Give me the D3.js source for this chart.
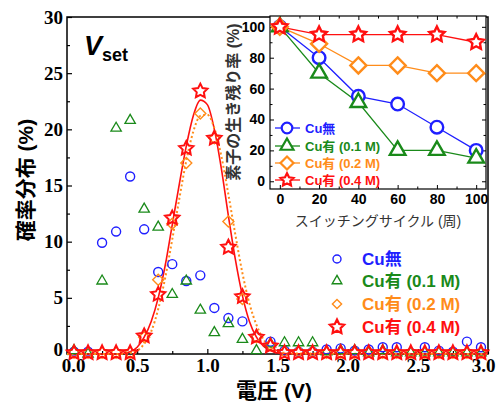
<!DOCTYPE html>
<html><head><meta charset="utf-8">
<script src="https://cdn.jsdelivr.net/npm/d3@7"></script>
<style>body{margin:0;background:#fff}svg{display:block}</style>
</head><body>
<svg id="c" width="498" height="405"></svg>
<script>
// ---------- DATA ----------
const voltages = [0.05,0.15,0.25,0.35,0.45,0.55,0.65,0.75,0.85,0.95,1.05,1.15,1.25,1.35,1.45,1.55,1.65,1.75,1.85,1.95,2.05,2.15,2.25,2.35,2.45,2.55,2.65,2.75,2.85,2.95];
const seriesNames = ["Cu無","Cu有 (0.1 M)","Cu有 (0.2 M)","Cu有 (0.4 M)"];
const noCu   = [0.2,0.2,9.9,10.9,15.8,11.1,7.3,8.0,6.5,7.0,4.1,3.2,2.9,1.5,1.1,0.3,0.2,0.2,0.4,0.5,0.3,0.4,0.6,0.6,0.1,0.6,0.3,0.2,1.1,0.6];
const cu01   = [0.3,0.0,6.5,20.1,20.8,12.9,11.3,5.3,6.5,3.9,1.9,2.7,1.3,0.3,0.9,1.0,1.0,1.0,0.2,0.3,0.3,0.1,0.3,0.1,0.1,0.1,0.1,0.1,0.1,0.1];
const cu02   = [0.1,0.1,0.1,0.1,0.1,1.5,6.6,11.6,17.0,21.4,19.2,11.8,4.9,1.5,0.8,0.2,0.2,0.2,0.1,0.1,0.1,0.2,0.1,0.1,0.1,0.1,0.1,0.1,0.1,0.1];
const cu04   = [0.1,0.1,0.1,0.1,0.1,1.6,5.3,12.1,18.3,23.4,19.2,9.5,5.1,1.5,0.7,0.1,0.1,0.1,0.1,0.1,0.1,0.1,0.1,0.1,0.1,0.1,0.1,0.1,0.1,0.1];
// fitted curves: [voltage, %]
const fit04 = [[0,0],[0.3,0],[0.4,0.05],[0.45,0.2],[0.5,0.6],[0.55,1.5],[0.6,2.9],[0.65,5.0],[0.7,7.9],[0.75,11.5],[0.8,15.1],[0.85,18.5],[0.9,21.2],[0.95,22.6],[1.0,22.2],[1.05,20.0],[1.1,16.5],[1.15,12.3],[1.2,8.4],[1.25,5.2],[1.3,2.9],[1.35,1.5],[1.4,0.7],[1.45,0.3],[1.5,0.1],[1.6,0.02],[3.0,0]];
const fit02 = [[0,0],[0.35,0],[0.45,0.1],[0.5,0.3],[0.55,0.9],[0.6,2.0],[0.65,4.0],[0.7,6.8],[0.75,10.2],[0.8,13.8],[0.85,17.2],[0.9,19.8],[0.95,21.2],[1.0,21.3],[1.05,20.1],[1.1,17.6],[1.15,14.2],[1.2,10.6],[1.25,7.2],[1.3,4.5],[1.35,2.6],[1.4,1.3],[1.45,0.6],[1.5,0.25],[1.6,0.05],[3.0,0]];
const xTicks = [0.0,0.5,1.0,1.5,2.0,2.5,3.0];
const yTicks = [0,5,10,15,20,25,30];
// inset
const cycles = [0,20,40,60,80,100];
const survNoCu = [100,80,55,50,35,20];
const surv01   = [100,70,51,20,20,15];
const surv02   = [100,89,75,75,70,70];
const surv04   = [100,95,95,95,95,90];
const insetXTicks = [0,20,40,60,80,100];
const insetYTicks = [0,20,40,60,80,100];

const colors = ["#1f1fff","#1a8a1a","#ff8c1a","#ff1010"];
const shapes = ["circle","triangle","diamond","star"];

// ---------- HELPERS ----------
function shapePath(type, s){
  if(type==="circle"){const p=d3.path();p.arc(0,0,s,0,2*Math.PI);p.closePath();return p.toString();}
  if(type==="triangle"){const a=s*2; const h=a/Math.sqrt(3);return `M0,${-h}L${a/2},${h/2}L${-a/2},${h/2}Z`;}
  if(type==="diamond"){return `M0,${-s}L${s},0L0,${s}L${-s},0Z`;}
  if(type==="star"){let d="";for(let i=0;i<10;i++){const r=i%2?s*0.5:s;const ang=-Math.PI/2+i*Math.PI/5;d+=(i?"L":"M")+(r*Math.cos(ang)).toFixed(2)+","+(r*Math.sin(ang)).toFixed(2);}return d+"Z";}
}
const sans = "'Liberation Sans', Arial, 'Noto Sans CJK JP', sans-serif";
const serif = "'Liberation Serif', 'Times New Roman', serif";

const svg = d3.select("#c");

// ---------- MAIN PLOT ----------
const x = d3.scaleLinear().domain([0,3]).range([67,488]);
const y = d3.scaleLinear().domain([0,30]).range([354,17]);

// minor ticks
svg.append("g").attr("transform",`translate(0,${y(0)})`)
  .call(d3.axisBottom(x).tickValues(d3.range(0.25,3,0.5)).tickSizeInner(-3).tickSizeOuter(0).tickFormat(""))
  .call(g=>g.select(".domain").remove()).selectAll("line").attr("stroke-width",1.2);
svg.append("g").attr("transform",`translate(${x(0)},0)`)
  .call(d3.axisLeft(y).tickValues(d3.range(2.5,30,5)).tickSizeInner(-3).tickSizeOuter(0).tickFormat(""))
  .call(g=>g.select(".domain").remove()).selectAll("line").attr("stroke-width",1.2);
// major
const gx = svg.append("g").attr("transform",`translate(0,${y(0)})`)
  .call(d3.axisBottom(x).tickValues(xTicks).tickSizeInner(-5).tickSizeOuter(0).tickPadding(5).tickFormat(d3.format(".1f")));
gx.select(".domain").remove();
gx.selectAll("line").attr("stroke-width",1.2);
gx.selectAll("text").attr("font-family",serif).attr("font-weight","bold").attr("font-size",19).attr("fill","#000")
  .attr("dx",d=>d===0?6:(d===3?-5:0));
const gy = svg.append("g").attr("transform",`translate(${x(0)},0)`)
  .call(d3.axisLeft(y).tickValues(yTicks).tickSizeInner(-5).tickSizeOuter(0).tickPadding(4));
gy.select(".domain").remove();
gy.selectAll("line").attr("stroke-width",1.2);
gy.selectAll("text").attr("font-family",serif).attr("font-weight","bold").attr("font-size",19).attr("fill","#000")
  .attr("dy",d=>d===0?"0.1em":"0.32em");

// frame
svg.append("rect").attr("x",x(0)).attr("y",y(30)).attr("width",x(3)-x(0)).attr("height",y(0)-y(30))
  .attr("fill","none").attr("stroke","#000").attr("stroke-width",1.5);

// curves
const line = d3.line().x(d=>x(d[0])).y(d=>y(d[1])).curve(d3.curveMonotoneX);
svg.append("path").attr("d",line(fit04)).attr("fill","none").attr("stroke",colors[3]).attr("stroke-width",1.6);
svg.append("path").attr("d",line(fit02)).attr("fill","none").attr("stroke",colors[2]).attr("stroke-width",2).attr("stroke-dasharray","2,2.5");

// markers
const mainSeries=[noCu,cu01,cu02,cu04];
const mainSize=[4.5,5.2,5.5,7.5];
const mainSW=[1.4,1.3,1.4,2];
mainSeries.forEach((ser,i)=>{
  svg.append("g").selectAll("path").data(ser.map((v,j)=>[voltages[j],v])).join("path")
    .attr("transform",d=>`translate(${x(d[0])},${y(d[1])})`)
    .attr("d",shapePath(shapes[i],mainSize[i]))
    .attr("fill","none").attr("stroke",colors[i]).attr("stroke-width",mainSW[i]).attr("stroke-linejoin","miter");
});

// axis titles
svg.append("text").attr("x",274).attr("y",398).attr("text-anchor","middle")
  .attr("font-family",sans).attr("font-weight","bold").attr("font-size",21).text("電圧 (V)");
svg.append("text").attr("transform","translate(33,180) rotate(-90)").attr("text-anchor","middle")
  .attr("font-family",sans).attr("font-weight","bold").attr("font-size",21).text("確率分布 (%)");

// Vset label
const vt = svg.append("text").attr("x",84).attr("y",55).attr("font-family",sans).attr("font-weight","bold");
vt.append("tspan").attr("font-style","italic").attr("font-size",27).text("V");
vt.append("tspan").attr("font-size",18).attr("dy",6).text("set");

// main legend
const legY=[259,281,304,327];
const legSize=[4,4.8,4.6,7.5];
seriesNames.forEach((n,i)=>{
  svg.append("path").attr("transform",`translate(337,${legY[i]})`).attr("d",shapePath(shapes[i],legSize[i]))
    .attr("fill","none").attr("stroke",colors[i]).attr("stroke-width",i===3?2.2:1.4);
  svg.append("text").attr("x",362).attr("y",legY[i]).attr("dy","0.36em")
    .attr("font-family",sans).attr("font-weight","bold").attr("font-size",17).attr("fill",colors[i]).text(n);
});

// ---------- INSET ----------
const ix = d3.scaleLinear().domain([-5,105]).range([270,486]);
const iy = d3.scaleLinear().domain([-5,107]).range([189,16]);
svg.append("rect").attr("x",ix(-5)).attr("y",iy(107)).attr("width",ix(105)-ix(-5)).attr("height",iy(-5)-iy(107))
  .attr("fill","#fff").attr("stroke","none");

function insetAxis(gen, tr, vals, size, labels){
  const g=svg.append("g").attr("transform",tr).call(gen.tickValues(vals).tickSizeInner(size).tickSizeOuter(0).tickPadding(5));
  g.select(".domain").remove();
  g.selectAll("line").attr("stroke-width",1);
  if(labels){g.selectAll("text").attr("font-family",sans).attr("font-weight","bold").attr("font-size",14).attr("fill","#000");}
  else g.selectAll("text").remove();
}
const minorX=d3.range(10,100,20), minorY=d3.range(10,100,20);
insetAxis(d3.axisBottom(ix),`translate(0,${iy(-5)})`,insetXTicks,-4,true);
insetAxis(d3.axisBottom(ix),`translate(0,${iy(-5)})`,minorX,-2.5,false);
insetAxis(d3.axisTop(ix),`translate(0,${iy(107)})`,insetXTicks,-4,false);
insetAxis(d3.axisTop(ix),`translate(0,${iy(107)})`,minorX,-2.5,false);
insetAxis(d3.axisLeft(iy),`translate(${ix(-5)},0)`,insetYTicks,-4,true);
insetAxis(d3.axisLeft(iy),`translate(${ix(-5)},0)`,minorY,-2.5,false);
insetAxis(d3.axisRight(iy),`translate(${ix(105)},0)`,insetYTicks,-4,false);
insetAxis(d3.axisRight(iy),`translate(${ix(105)},0)`,minorY,-2.5,false);

svg.append("rect").attr("x",ix(-5)).attr("y",iy(107)).attr("width",ix(105)-ix(-5)).attr("height",iy(-5)-iy(107))
  .attr("fill","none").attr("stroke","#000").attr("stroke-width",1.2);

const insetSeries=[survNoCu,surv01,surv02,surv04];
const insetSize=[6.3,7.8,8,8];
const insetLine=d3.line().x((d,j)=>ix(cycles[j])).y(d=>iy(d));
insetSeries.forEach((ser,i)=>{
  svg.append("path").attr("d",insetLine(ser)).attr("fill","none").attr("stroke",colors[i]).attr("stroke-width",1.3);
});
insetSeries.forEach((ser,i)=>{
  svg.append("g").selectAll("path").data(ser).join("path")
    .attr("transform",(d,j)=>`translate(${ix(cycles[j])},${iy(d)})`)
    .attr("d",shapePath(shapes[i],insetSize[i]))
    .attr("fill","#fff").attr("stroke",colors[i]).attr("stroke-width",2.4);
});

svg.append("text").attr("x",378).attr("y",226).attr("text-anchor","middle")
  .attr("font-family",sans).attr("font-size",14).attr("fill","#333").text("スイッチングサイクル (周)");
svg.append("text").attr("transform","translate(239,102) rotate(-90)").attr("text-anchor","middle")
  .attr("font-family",sans).attr("font-size",16).attr("font-weight","bold").attr("fill","#333").text("素子の生き残り率 (%)");

// inset legend
const ilY=[128,146,163,180];
const ilSize=[5.3,6.5,6.5,6.8];
seriesNames.forEach((n,i)=>{
  svg.append("line").attr("x1",275).attr("x2",300).attr("y1",ilY[i]).attr("y2",ilY[i]).attr("stroke",colors[i]).attr("stroke-width",1.3);
  svg.append("path").attr("transform",`translate(287,${ilY[i]})`).attr("d",shapePath(shapes[i],ilSize[i]))
    .attr("fill","#fff").attr("stroke",colors[i]).attr("stroke-width",2.2);
  svg.append("text").attr("x",305).attr("y",ilY[i]).attr("dy","0.36em")
    .attr("font-family",sans).attr("font-weight","bold").attr("font-size",13).attr("fill",colors[i]).text(n);
});
</script>
</body></html>
